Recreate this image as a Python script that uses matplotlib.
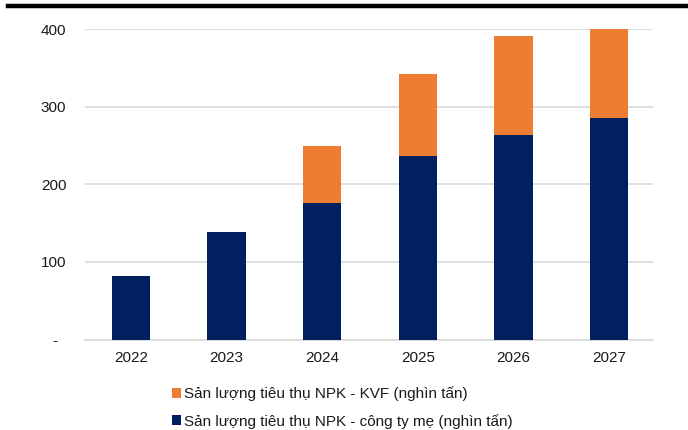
import matplotlib.pyplot as plt
from matplotlib.lines import Line2D
import numpy as np

# dữ liệu
years = ["2022", "2023", "2024", "2025", "2026", "2027"]
npk_parent = [82, 138, 176, 236, 264, 286]
npk_kvf = [0, 0, 74, 107, 128, 114]
yticks = [0, 100, 200, 300, 400]
ytick_labels = ["-  ", "100", "200", "300", "400"]

NAVY = "#002060"
ORANGE = "#ED7D31"

plt.rcParams["font.family"] = ["Liberation Sans", "DejaVu Sans"]

fig = plt.figure(figsize=(6.88, 4.30), dpi=100)
ax = fig.add_axes([85 / 688, 1 - 339.5 / 430, (653 - 85) / 688, (339.5 - 29.3) / 430])

x = np.arange(len(years))
b1 = ax.bar(x, npk_parent, width=0.4, color=NAVY, zorder=3,
            label="Sản lượng tiêu thụ NPK - công ty mẹ (nghìn tấn)")
b2 = ax.bar(x, npk_kvf, width=0.4, bottom=npk_parent, color=ORANGE, zorder=3,
            label="Sản lượng tiêu thụ NPK - KVF (nghìn tấn)")

ax.set_xlim(-0.48, 5.46)
ax.set_ylim(0, 400)
ax.set_xticks(x)
ax.set_xticklabels(years)
ax.set_yticks(yticks)
ax.set_yticklabels(ytick_labels)
ax.tick_params(axis="both", length=0, labelsize=11, labelcolor="#1a1a1a")
ax.tick_params(axis="x", pad=8)
ax.tick_params(axis="y", pad=13.5)
ax.yaxis.grid(True, color="#D9D9D9", linewidth=1.2, zorder=0)
ax.set_axisbelow(True)
for s in ["top", "right", "left"]:
    ax.spines[s].set_visible(False)
ax.spines["bottom"].set_color("#D9D9D9")
ax.spines["bottom"].set_linewidth(1.2)

# legend: KVF trên, công ty mẹ dưới
fig.legend([b2, b1], [b2.get_label(), b1.get_label()],
           loc="upper left", bbox_to_anchor=(164 / 688, 1 - 379 / 430),
           frameon=False, fontsize=11, handlelength=0.6, handleheight=0.6,
           handletextpad=0.2, labelspacing=0.8, borderpad=0,
           labelcolor="#1a1a1a")

# đường kẻ đen phía trên
fig.add_artist(Line2D([8 / 688, 1.0], [1 - 6 / 430, 1 - 6 / 430],
                      color="black", linewidth=3.2, transform=fig.transFigure))

fig.savefig("out.png", dpi=100)
